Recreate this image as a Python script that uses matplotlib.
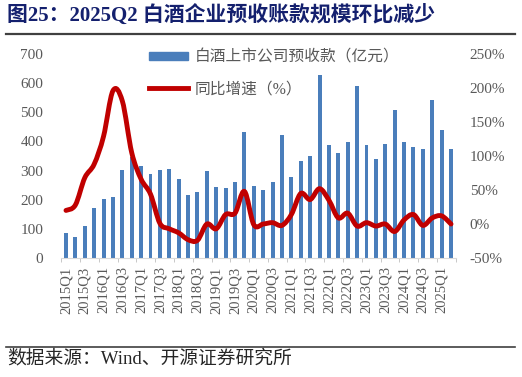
import numpy as np
import matplotlib
matplotlib.use("Agg")
import matplotlib.pyplot as plt
from matplotlib.path import Path
from matplotlib.patches import PathPatch, Patch
from matplotlib.lines import Line2D

plt.rcParams['font.family'] = ['Liberation Serif', 'Noto Sans CJK SC', 'DejaVu Sans']

quarters = [f"{y}Q{q}" for y in range(2015, 2026) for q in range(1, 5)][:42]
advance = [87, 72, 109, 170, 201, 210, 302, 345, 317, 290, 302, 305, 270, 218,
           228, 298, 243, 240, 262, 434, 247, 235, 260, 421, 279, 333, 350, 627,
           388, 360, 398, 592, 388, 340, 390, 508, 399, 380, 374, 543, 440, 373]
yoy = [20, 28, 68, 88, 129, 196, 181, 105, 66, 44, 1, -7, -13, -23,
       -24, 0, -7, 14, 16, 48, -1, 0, 2, -2, 14, 45, 36, 52,
       35, 9, 16, -3, 2, -3, 0, -11, 6, 14, -2, 9, 12, 0]

blue = "#4a7ebb"
red = "#c00000"
gray = "#595959"

fig = plt.figure(figsize=(5.22, 3.77), dpi=100)
ax = fig.add_axes([0.1174, 0.3156, 0.7556, 0.541])
x = np.arange(len(quarters))
ax.bar(x, advance, width=0.42, color=blue, zorder=2)
ax.set_xlim(-0.5, len(quarters) - 0.5)
ax.set_ylim(0, 700)
ax.set_yticks(range(0, 701, 100))
ax.set_xticks(x[::2])
ax.set_xticklabels(quarters[::2], rotation=90, fontsize=10.5, color=gray)
ax.set_xticks(np.arange(-0.5, len(quarters), 2), minor=True)
ax.tick_params(axis='x', which='major', length=0, pad=6)
ax.tick_params(axis='x', which='minor', length=3, color="#bfbfbf")
ax.tick_params(axis='y', length=0, labelsize=11, labelcolor=gray, pad=13)
for s in ['top', 'right', 'left']:
    ax.spines[s].set_visible(False)
ax.spines['bottom'].set_color("#d9d9d9")

ax2 = ax.twinx()
ax2.set_ylim(-50, 250)
ax2.set_yticks(range(-50, 251, 50))
ax2.set_yticklabels([f"{v}%" for v in range(-50, 251, 50)])
ax2.tick_params(axis='y', length=0, labelsize=11, labelcolor=gray, pad=10)
for s in ax2.spines.values():
    s.set_visible(False)

# smooth curve like Excel (Catmull-Rom -> Bezier)
pts = np.column_stack([x, yoy]).astype(float)
verts = [pts[0]]
codes = [Path.MOVETO]
for i in range(len(pts) - 1):
    p0 = pts[i - 1] if i > 0 else pts[i]
    p1, p2 = pts[i], pts[i + 1]
    p3 = pts[i + 2] if i + 2 < len(pts) else pts[i + 1]
    verts += [p1 + (p2 - p0) / 6, p2 - (p3 - p1) / 6, p2]
    codes += [Path.CURVE4] * 3
ax2.add_patch(PathPatch(Path(verts, codes), fill=False, edgecolor=red,
                        lw=3.5, capstyle='round', joinstyle='round', zorder=3))

handles = [Patch(color=blue), Line2D([], [], color=red, lw=3.5)]
labels = ["白酒上市公司预收款（亿元）", "同比增速（%）"]
leg = ax2.legend(handles, labels, loc='upper left', bbox_to_anchor=(0.27, 0.89),
                 bbox_transform=fig.transFigure, frameon=False, fontsize=11.3,
                 handlelength=2.5, handleheight=0.45, handletextpad=0.45,
                 labelspacing=1.0, borderpad=0)
for t in leg.get_texts():
    t.set_color(gray)

fig.text(0.013, 0.958, "图25：2025Q2 白酒企业预收账款规模环比减少", fontsize=15,
         fontweight='bold', color="#14206e", va='center', ha='left')
fig.add_artist(Line2D([0.012, 0.987], [0.91, 0.91], color="#404040", lw=1.6))
fig.add_artist(Line2D([0.012, 0.987], [0.08, 0.08], color="#404040", lw=1.2))
fig.text(0.013, 0.048, "数据来源：Wind、开源证券研究所", fontsize=13.5,
         color="#262626", va='center', ha='left')

fig.savefig("out.png", dpi=100)
